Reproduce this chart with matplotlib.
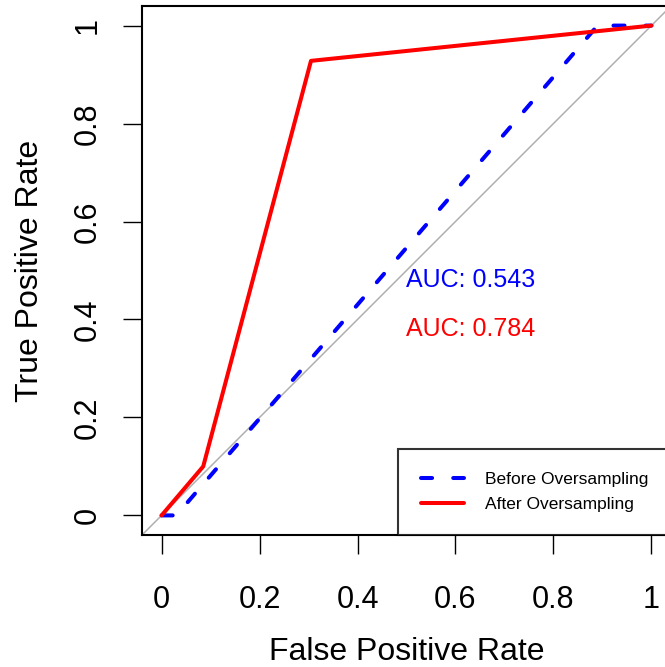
import matplotlib
matplotlib.use("Agg")
import matplotlib.pyplot as plt

# ROC points
fpr_before = [0.0, 0.03, 0.89, 1.0]
tpr_before = [0.0, 0.0, 1.0, 1.0]
fpr_after = [0.0, 0.085, 0.305, 1.0]
tpr_after = [0.0, 0.10, 0.928, 1.0]
auc_before = 0.543
auc_after = 0.784
ticks = [0, 0.2, 0.4, 0.6, 0.8, 1]
tick_labels = ["0", "0.2", "0.4", "0.6", "0.8", "1"]

plt.rcParams['font.family'] = ['Liberation Sans', 'DejaVu Sans']

fig = plt.figure(figsize=(6.65, 6.67), dpi=100)
# plot box runs a little past the right edge of the image, like the original
ax = fig.add_axes([142/665, 132/667, 529/665, 529/667])
ax.set_xlim(-0.04, 1.04)
ax.set_ylim(-0.04, 1.04)

ax.axline((0, 0), (1, 1), color='#b0b0b0', lw=1.1, zorder=1)
ax.plot(fpr_before, tpr_before, color='blue', lw=2.9, linestyle=(0, (2.75, 5.25)),
        dash_capstyle='round', solid_capstyle='round', label='Before Oversampling', zorder=2)
ax.plot(fpr_after, tpr_after, color='red', lw=2.9, solid_capstyle='round',
        label='After Oversampling', zorder=3)

ax.text(0.5, 0.48, "AUC: {}".format(auc_before), color='blue', fontsize=18, va='center', ha='left')
ax.text(0.5, 0.38, "AUC: {}".format(auc_after), color='red', fontsize=18, va='center', ha='left')

ax.set_xticks(ticks)
ax.set_xticklabels(tick_labels)
ax.set_yticks(ticks)
ax.set_yticklabels(tick_labels)
ax.tick_params(direction='out', length=14, width=1.0, labelsize=22)
ax.tick_params(axis='x', pad=22)
ax.tick_params(axis='y', pad=14)
plt.setp(ax.get_yticklabels(), rotation=90, va='center')
for s in ax.spines.values():
    s.set_linewidth(1.5)

ax.set_xlabel("False Positive Rate", fontsize=23)
ax.set_ylabel("True Positive Rate", fontsize=23)
ax.xaxis.set_label_coords(0.5, -0.193)
ax.yaxis.set_label_coords(-0.184, 0.5)

leg = ax.legend(loc='lower right', fontsize=12.5, frameon=True, fancybox=False,
                edgecolor='black', borderaxespad=0, borderpad=1.3, handlelength=2.5,
                handletextpad=1.2, labelspacing=0.6)
leg.get_frame().set_linewidth(1.5)

fig.savefig("out.png", dpi=100)
